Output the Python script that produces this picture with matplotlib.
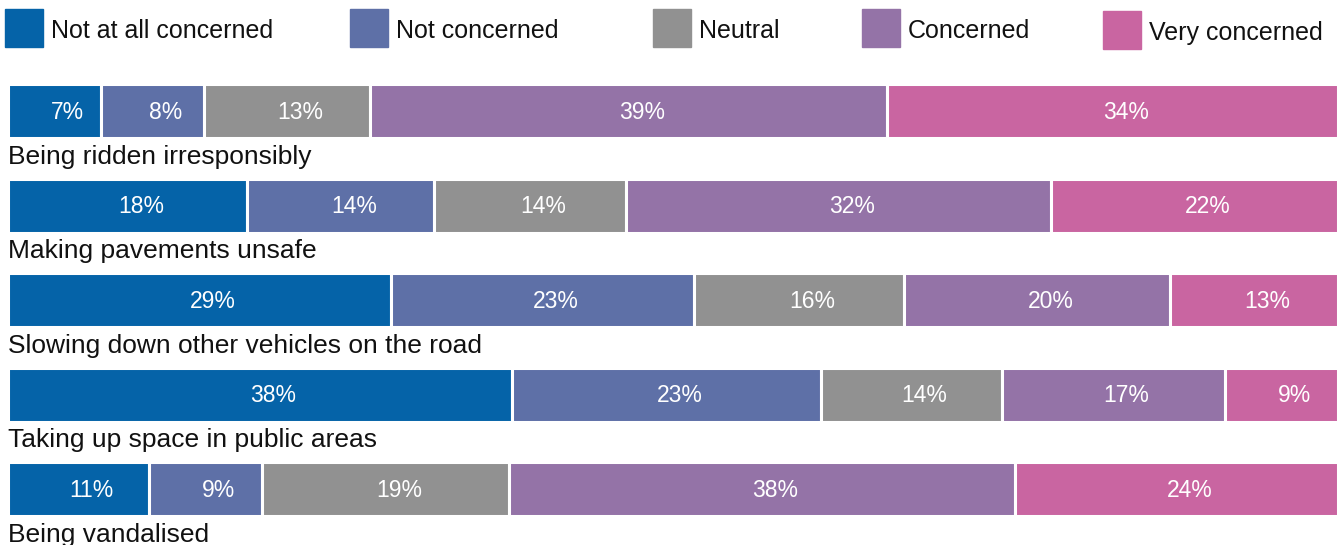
import matplotlib.pyplot as plt
import numpy as np
from matplotlib.patches import Rectangle

plt.rcParams['font.family'] = ['Liberation Sans', 'DejaVu Sans']

# Survey responses per concern (percent)
concerns = [
    "Being ridden irresponsibly",
    "Making pavements unsafe",
    "Slowing down other vehicles on the road",
    "Taking up space in public areas",
    "Being vandalised",
]
responses = ["Not at all concerned", "Not concerned", "Neutral", "Concerned", "Very concerned"]

# bar widths (unrounded shares)
not_at_all = [7.0, 18.0, 28.8, 37.9, 10.6]
not_concerned = [7.7, 14.0, 22.8, 23.2, 8.5]
neutral = [12.5, 14.5, 15.8, 13.6, 18.6]
concerned = [38.8, 31.9, 20.0, 16.8, 38.0]
very_concerned = [33.9, 21.6, 12.6, 8.5, 24.3]

# printed labels
lab_not_at_all = [7, 18, 29, 38, 11]
lab_not_concerned = [8, 14, 23, 23, 9]
lab_neutral = [13, 14, 16, 14, 19]
lab_concerned = [39, 32, 20, 17, 38]
lab_very_concerned = [34, 22, 13, 9, 24]

colors = ["#0563a8", "#5e70a7", "#919191", "#9473a7", "#c965a1"]

data = np.array([not_at_all, not_concerned, neutral, concerned, very_concerned])
shares = data / data.sum(axis=0) * 100  # rows fill the full width
labels = [lab_not_at_all, lab_not_concerned, lab_neutral, lab_concerned, lab_very_concerned]

W, H = 1338, 545
fig = plt.figure(figsize=(W / 100, H / 100), dpi=100)
ax = fig.add_axes([8 / W, 0, 1 - 8 / W, 1])

# y mapping: row centres at 111 px + 94.5 px per row, from the top
step = 94.5
ax.set_ylim((H - 111) / step, -111 / step)
ax.set_xlim(0, 100)
bar_h = 54 / step

y = np.arange(len(concerns))
left = np.zeros(len(concerns))
for k in range(len(responses)):
    ax.barh(y, shares[k], left=left, height=bar_h, color=colors[k],
            edgecolor="white", linewidth=2.2)
    for i in range(len(concerns)):
        # labels sit a little right of the segment centre in the original
        ax.text(left[i] + shares[k][i] / 2 + 1.0, y[i] + 0.015, f"{labels[k][i]}%",
                ha="center", va="center", color="white", fontsize=16.5)
    left += shares[k]

for i, name in enumerate(concerns):
    ax.text(0, y[i] + bar_h / 2 + 0.07, name, ha="left", va="top",
            fontsize=19, color="#111111")

ax.axis("off")

# legend row along the top
leg_x = [5, 350, 653, 862, 1103]
leg_y = [28, 28, 28, 28, 30]
for k, lab in enumerate(responses):
    sq = Rectangle(((leg_x[k]) / W, 1 - (leg_y[k] + 19) / H), 38 / W, 38 / H,
                   transform=fig.transFigure, color=colors[k])
    fig.patches.append(sq)
    fig.text((leg_x[k] + 46) / W, 1 - (leg_y[k] + 3) / H, lab, ha="left", va="center",
             fontsize=18, color="#111111")

fig.savefig("out.png", dpi=100)
